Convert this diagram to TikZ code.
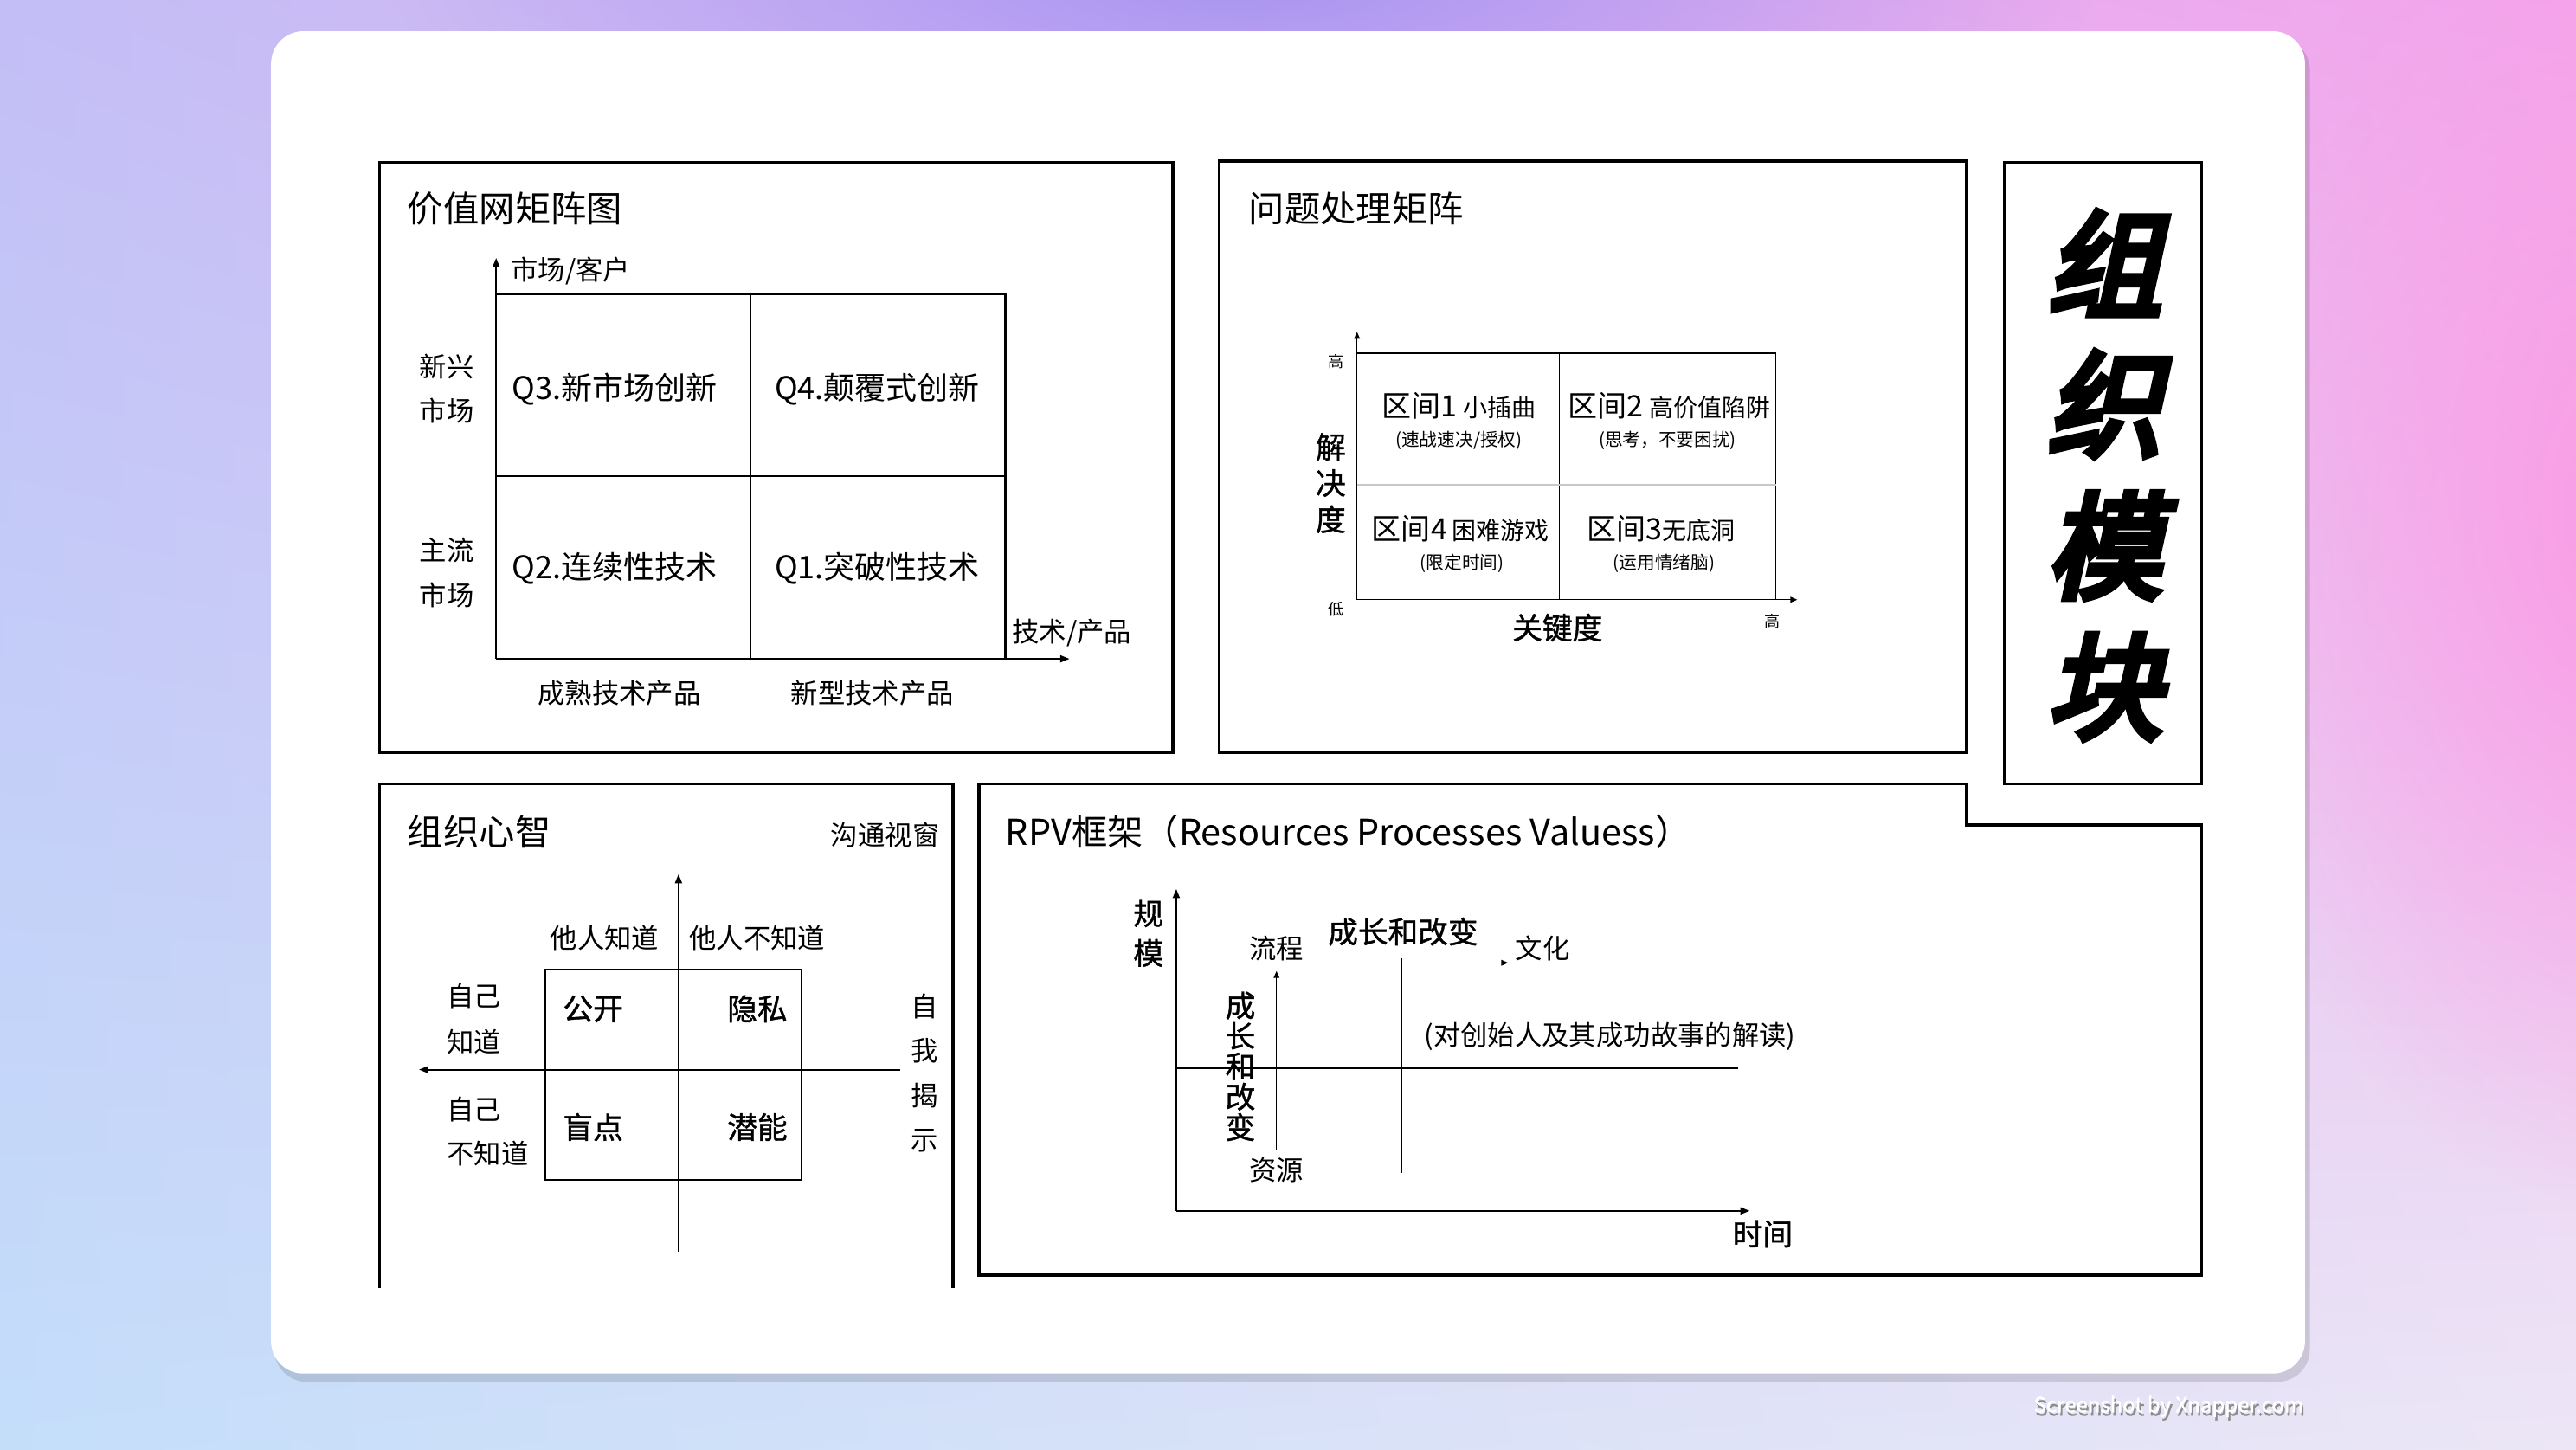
\documentclass[tikz,border=0pt]{standalone}
\usepackage{fontspec}
\setmainfont{Noto Sans CJK SC}
\newfontfamily\medfont{Noto Sans CJK SC}[FakeBold=1.2]
\newfontfamily\heavyfont{Noto Sans CJK SC}[FakeBold=6, FakeSlant=0.22]
\usetikzlibrary{arrows.meta, positioning, shadings, fadings}
\tikzfading[name=glow, inner color=transparent!0, outer color=transparent!100]
\definecolor{bgUL}{HTML}{C3BEF6}
\definecolor{bgUR}{HTML}{F4A6EC}
\definecolor{bgLL}{HTML}{C4DEFA}
\definecolor{bgLR}{HTML}{ECE6F6}
\definecolor{bgTop}{HTML}{A896F2}
\definecolor{bgPink}{HTML}{FA9CE6}
\definecolor{cGrid}{HTML}{C8C8C8}

\begin{document}
\begin{tikzpicture}[
  x=0.5mm, y=-0.5mm,
  >=Triangle,
  frame/.style  = {draw, line width=2.6pt},
  gridln/.style = {line width=1.6pt},
  thinln/.style = {line width=1pt},
  axis/.style   = {-{Triangle[length=8pt, width=6pt]}, line width=1.5pt},
  saxis/.style  = {-{Triangle[length=6pt, width=5pt]}, line width=1pt},
  txt/.style    = {inner sep=0pt},
  ttl/.style    = {txt, anchor=west, font=\fontsize{31pt}{36pt}\selectfont},
  cell/.style   = {txt, font=\fontsize{27pt}{32pt}\selectfont},
  lab/.style    = {txt, font=\fontsize{23.5pt}{28pt}\selectfont},
  bold/.style   = {txt, font=\medfont\fontsize{26pt}{30pt}\selectfont},
  zone/.style   = {txt, font=\fontsize{25.5pt}{30pt}\selectfont},
  note/.style   = {txt, font=\fontsize{15.5pt}{18pt}\selectfont},
  tiny/.style   = {txt, font=\fontsize{13.5pt}{16pt}\selectfont},
  bigch/.style  = {txt, font=\heavyfont\fontsize{100pt}{100pt}\selectfont}]

\useasboundingbox (0,0) rectangle (1568,882);

% ---- backdrop and card ------------------------------------------------------
\shade[upper left=bgUL, upper right=bgUR, lower left=bgLL, lower right=bgLR]
  (0,0) rectangle (1568,882);
\fill[bgTop, path fading=glow] (760,-10) ellipse (520 and 130);
\fill[bgPink, path fading=glow] (1600,320) ellipse (260 and 420);
\fill[black, opacity=0.12, rounded corners=28pt] (167,23) rectangle (1406,841);
\fill[white, rounded corners=28pt] (165,19) rectangle (1403,836);

% ---- box 1: value network matrix --------------------------------------------
\draw[frame] (231,99) rectangle (714,458);
\node[ttl] (vnTitle) at (248,127) {价值网矩阵图};
\coordinate (vnO) at (302,401);
\coordinate (vnY) at (302,157);
\coordinate (vnX) at (651,401);
\draw[gridln] (302,179) -- (612,179) -- (612,401);
\draw[gridln] (457,179) -- (457,401);
\draw[gridln] (302,290) -- (612,290);
\draw[axis] (vnO) -- (vnY);
\draw[axis] (vnO) -- (vnX);
\node[lab, anchor=west] (vnYl) at (311,165) {市场/客户};
\node[lab, anchor=west] (vnXl) at (616,385) {技术/产品};
\node[cell] (q3) at (374,237) {Q3.新市场创新};
\node[cell] (q4) at (534,237) {Q4.颠覆式创新};
\node[cell] (q2) at (374,346) {Q2.连续性技术};
\node[cell] (q1) at (534,346) {Q1.突破性技术};
\node[lab] (rowA1) at (272,223) {新兴};
\node[lab] (rowA2) at (272,250) {市场};
\node[lab] (rowB1) at (272,335) {主流};
\node[lab] (rowB2) at (272,362) {市场};
\node[lab] (colA) at (377,422) {成熟技术产品};
\node[lab] (colB) at (531,422) {新型技术产品};

% ---- box 2: problem matrix --------------------------------------------------
\draw[frame] (742,98) rectangle (1197,458);
\node[ttl] (pmTitle) at (760,127) {问题处理矩阵};
\coordinate (pmO) at (826,365);
\coordinate (pmY) at (826,202);
\coordinate (pmX) at (1094,365);
\draw[thinln] (826,215) -- (1081,215) -- (1081,365);
\draw[thinln] (949,215) -- (949,365);
\draw[thinln, cGrid] (826,295) -- (1081,295);
\draw[saxis] (pmO) -- (pmY);
\draw[saxis] (pmO) -- (pmX);
\node[tiny] (pmHi) at (813,220) {高};
\node[tiny] (pmLo) at (813,371) {低};
\node[tiny] (pmHx) at (1079,378) {高};
\foreach \ch [count=\i] in {解,决,度}
  \node[bold] (pmY\i) at (810,250+22*\i) {\ch};
\node[bold] (pmXl) at (948,382) {关键度};
\node[zone] (z1) at (888,247) {区间1 {\fontsize{21pt}{24pt}\selectfont 小插曲}};
\node[note] (z1n) at (888,268) {(速战速决/授权)};
\node[zone] (z2) at (1016,247) {区间2 {\fontsize{21pt}{24pt}\selectfont 高价值陷阱}};
\node[note] (z2n) at (1015,268) {(思考，不要困扰)};
\node[zone] (z4) at (889,322) {区间4\,{\fontsize{21pt}{24pt}\selectfont 困难游戏}};
\node[note] (z4n) at (890,343) {(限定时间)};
\node[zone] (z3) at (1011,322) {区间3{\fontsize{21pt}{24pt}\selectfont 无底洞}};
\node[note] (z3n) at (1013,343) {(运用情绪脑)};

% ---- box 3: module banner ---------------------------------------------------
\draw[frame] (1220,99) rectangle (1340,477);
\foreach \ch [count=\i] in {组,织,模,块}
  \node[bigch] (big\i) at (1281,74+86*\i) {\ch};

% ---- box 4: organisational mind (open at the bottom) ------------------------
\draw[frame] (231,784) -- (231,477) -- (580,477) -- (580,784);
\node[ttl] (omTitle) at (248,506) {组织心智};
\node[lab, anchor=east] (omSub) at (572,508) {沟通视窗};
\coordinate (omB) at (413,762);
\coordinate (omT) at (413,532);
\coordinate (omR) at (548,651);
\coordinate (omL) at (255,651);
\draw[gridln] (332,590) rectangle (488,718);
\draw[axis] (omB) -- (omT);
\draw[axis] (omR) -- (omL);
\node[lab] (omC1) at (368,571) {他人知道};
\node[lab] (omC2) at (461,571) {他人不知道};
\node[lab, anchor=west] (omR1a) at (272,606) {自己};
\node[lab, anchor=west] (omR1b) at (272,634) {知道};
\node[lab, anchor=west] (omR2a) at (272,675) {自己};
\node[lab, anchor=west] (omR2b) at (272,702) {不知道};
\foreach \ch [count=\i] in {自,我,揭,示}
  \node[lab] (omS\i) at (563,585+27.3*\i) {\ch};
\node[bold] (open)  at (361,614) {公开};
\node[bold] (priv)  at (461,614) {隐私};
\node[bold] (blind) at (361,686) {盲点};
\node[bold] (pot)   at (461,686) {潜能};

% ---- box 5: RPV frame (notched top right) -----------------------------------
\draw[frame] (596,477) -- (1197,477) -- (1197,502) -- (1340,502)
  -- (1340,776) -- (596,776) -- cycle;
\node[ttl] (rpvTitle) at (612,506) {RPV框架（Resources Processes Valuess）};
\coordinate (rO) at (716,737);
\coordinate (rY) at (716,541);
\coordinate (rX) at (1065,737);
\coordinate (rMidL) at (716,650);
\coordinate (rMidR) at (1058,650);
\coordinate (rUp0) at (777,700);
\coordinate (rUp1) at (777,591);
\coordinate (rRt0) at (806,586);
\coordinate (rRt1) at (918,586);
\coordinate (rCut0) at (853,583);
\coordinate (rCut1) at (853,714);
\draw[axis] (rO) -- (rY);
\draw[axis] (rO) -- (rX);
\draw[gridln] (rMidL) -- (rMidR);
\draw[gridln] (rCut0) -- (rCut1);
\draw[saxis] (rUp0) -- (rUp1);
\draw[saxis] (rRt0) -- (rRt1);
\node[bold] (rYl1) at (699,556) {规};
\node[bold] (rYl2) at (699,580) {模};
\node[bold] (rXl) at (1073,751) {时间};
\node[lab] (proc) at (777,577) {流程};
\node[lab] (res) at (777,712) {资源};
\node[lab] (cult) at (939,577) {文化};
\node[bold] (grow) at (854,567) {成长和改变};
\foreach \ch [count=\i] in {成,长,和,改,变}
  \node[bold] (growV\i) at (755,593.5+18.5*\i) {\ch};
\node[lab] (story) at (980,631) {(对创始人及其成功故事的解读)};

% ---- watermark --------------------------------------------------------------
\node[txt, font=\medfont\fontsize{18pt}{20pt}\selectfont, black!45]
  (wmShadow) at (1321,858) {Screenshot by Xnapper.com};
\node[txt, font=\medfont\fontsize{18pt}{20pt}\selectfont, white]
  (wm) at (1320,856) {Screenshot by Xnapper.com};

\end{tikzpicture}
\end{document}
